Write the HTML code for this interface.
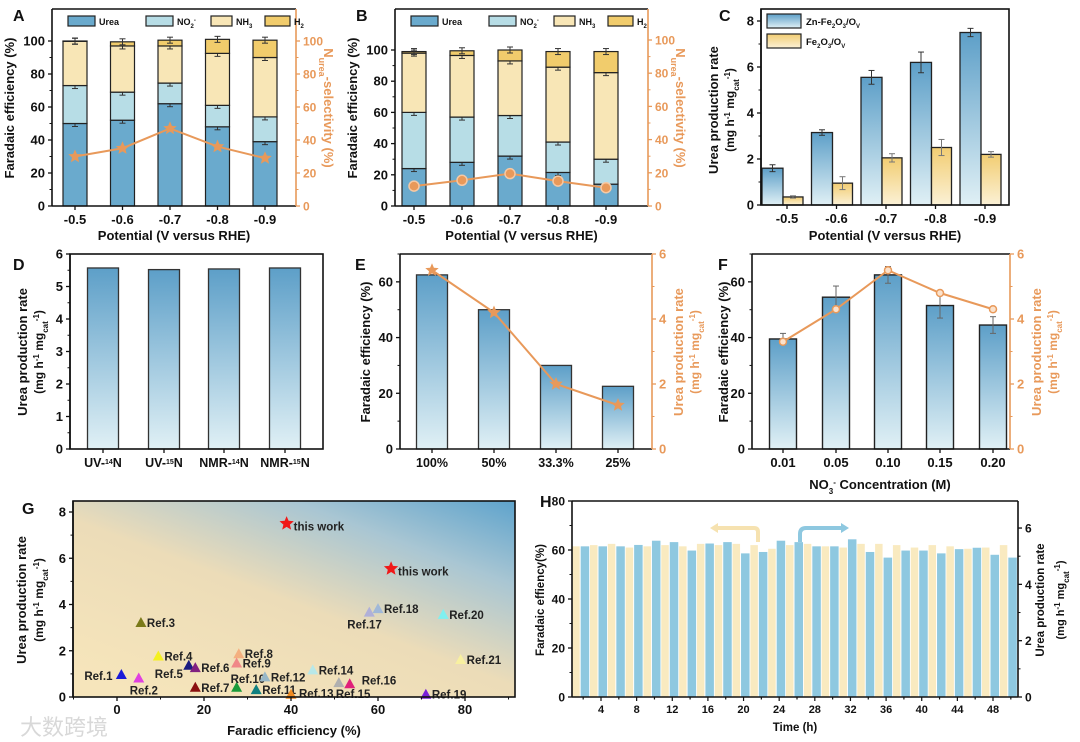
<!DOCTYPE html>
<html><head><meta charset="utf-8"><style>
html,body{margin:0;padding:0;background:#fff}
svg{display:block;font-family:"Liberation Sans","Noto Sans CJK SC",sans-serif;font-weight:bold}
</style></head><body>
<svg id="fig" width="1080" height="742" viewBox="0 0 1080 742" xmlns="http://www.w3.org/2000/svg">
<defs>
<linearGradient id="gBlue" x1="0" y1="0" x2="0" y2="1"><stop offset="0" stop-color="#5d9fc8"/><stop offset="1" stop-color="#e0f0f5"/></linearGradient>
<linearGradient id="gYel" x1="0" y1="0" x2="0" y2="1"><stop offset="0" stop-color="#f2cd72"/><stop offset="1" stop-color="#fbf1d6"/></linearGradient>
<linearGradient id="gBg" x1="0.15" y1="1" x2="1" y2="0"><stop offset="0" stop-color="#f6e5bb"/><stop offset="0.45" stop-color="#ecdcb8"/><stop offset="0.75" stop-color="#a9c6d3"/><stop offset="1" stop-color="#5ea3cc"/></linearGradient>
</defs>
</svg>
<script>
// ---------- DATA ----------
const potCats = ['-0.5','-0.6','-0.7','-0.8','-0.9'];
const aUrea = [50,52,62,48,39];
const aNO2 = [23,17,12.5,13,15];
const aNH3 = [26.8,28,22.5,31.5,36];
const aH2 = [0.2,2.5,3.5,8.5,10.5];
const aSel = [30,35,47,36,29];
const bUrea = [24,28,32,21.5,14];
const bNO2 = [36,29,26,19.5,16];
const bNH3 = [38,39.5,35,48,55.5];
const bH2 = [1,3,7,10,13.5];
const bSel = [12,15.5,19.5,15,11];
const cZn = [1.6,3.15,5.55,6.2,7.5];
const cZnErr = [0.15,0.12,0.3,0.45,0.18];
const cFe = [0.35,0.95,2.05,2.5,2.2];
const cFeErr = [0.05,0.28,0.18,0.35,0.12];
const dCats = ['UV-<tspan baseline-shift="super" font-size="7">14</tspan>N','UV-<tspan baseline-shift="super" font-size="7">15</tspan>N','NMR-<tspan baseline-shift="super" font-size="7">14</tspan>N','NMR-<tspan baseline-shift="super" font-size="7">15</tspan>N'];
const dVals = [5.57,5.52,5.54,5.57];
const eCats = ['100%','50%','33.3%','25%'];
const eFE = [62.5,50,30,22.5];
const eRate = [5.5,4.2,2.0,1.35];
const fCats = ['0.01','0.05','0.10','0.15','0.20'];
const fFE = [39.5,54.5,62.5,51.5,44.5];
const fFEErr = [2,4,3,4.5,3];
const fRate = [3.3,4.3,5.5,4.8,4.3];
const gWorkX = [39,63];
const gWorkY = [7.5,5.55];
const gRefNames = ['Ref.1','Ref.2','Ref.3','Ref.4','Ref.5','Ref.6','Ref.7','Ref.8','Ref.9','Ref.10','Ref.11','Ref.12','Ref.13','Ref.14','Ref.15','Ref.16','Ref.17','Ref.18','Ref.19','Ref.20','Ref.21'];
const gRefX = [1,5,5.5,9.5,16.5,18,18,28,27.5,27.5,32,34,40,45,51,53.5,58,60,71,75,79];
const gRefY = [0.95,0.8,3.2,1.75,1.35,1.25,0.4,1.85,1.45,0.4,0.3,0.85,0.1,1.15,0.6,0.55,3.65,3.8,0.1,3.55,1.6];
const gRefColors = ['#1a1ad8','#e040e0','#7a7a1a','#f4f020','#1a1a80','#802080','#8a1010','#f4b080','#f08888','#1a9a3a','#108080','#98b8c8','#f08a20','#b8e8e8','#b0b0b0','#e0207a','#b0b0d8','#a0b8d8','#7a20d8','#80f0f0','#f8f0a0'];
const hTime = [2,4,6,8,10,12,14,16,18,20,22,24,26,28,30,32,34,36,38,40,42,44,46,48,50];
const hFE = [61.5,62,62.5,61,61.5,62,61.5,62.5,62,62.5,62,60.5,62,62.5,61.5,61,62.5,62.5,62,61,62,61.5,60.5,61,62];
const hRate = [5.35,5.35,5.35,5.4,5.55,5.5,5.2,5.45,5.5,5.1,5.15,5.55,5.5,5.35,5.35,5.6,5.15,4.95,5.2,5.2,5.1,5.25,5.3,5.05,4.95];

// ---------- HELPERS ----------
const NS='http://www.w3.org/2000/svg';
const svg=document.getElementById('fig');
function mk(tag,attrs,parent){const e=document.createElementNS(NS,tag);for(const k in attrs)e.setAttribute(k,attrs[k]);(parent||svg).appendChild(e);return e;}
function txt(x,y,s,attrs,parent){const e=mk('text',Object.assign({x:x,y:y},attrs||{}),parent);e.innerHTML=s;return e;}
function lin(d0,d1,r0,r1){return v=>r0+(v-d0)*(r1-r0)/(d1-d0);}
const ORANGE='#e8995a';
function frame(x0,y0,x1,y1,name){const r=mk('rect',{x:x0,y:y0,width:x1-x0,height:y1-y0,fill:'none',stroke:'#111','stroke-width':1.6});


return r;}
function yAxis(x,sc,ticks,minors,side,color,fs,name,top,bottom){
 const g=mk('g',{});
 
 
 const dir=side==='left'?-1:1;
 mk('line',{x1:x,x2:x,y1:top!==undefined?top:sc(ticks[ticks.length-1]),y2:bottom!==undefined?bottom:sc(ticks[0]),stroke:color,'stroke-width':1.6},g);
 ticks.forEach(t=>{mk('line',{x1:x,x2:x+dir*4,y1:sc(t),y2:sc(t),stroke:color,'stroke-width':1.3},g);
  const l=txt(x+dir*7,sc(t)+4.5,String(t),{'text-anchor':side==='left'?'end':'start','font-size':fs||13,fill:color},g);
  
  });
 (minors||[]).forEach(t=>mk('line',{x1:x,x2:x+dir*2.5,y1:sc(t),y2:sc(t),stroke:color,'stroke-width':1},g));
 return g;}
function xTicks(xs,labels,y,fs,name){
 const g=mk('g',{});
 
 
 xs.forEach((x,i)=>{mk('line',{x1:x,x2:x,y1:y,y2:y+4,stroke:'#111','stroke-width':1.3},g);
  const l=txt(x,y+18,labels[i],{'text-anchor':'middle','font-size':fs||13,fill:'#111'},g);
  
  });
 return g;}
function vlabel(x,y,s,color,fs,name){const t=txt(x,y,s,{'text-anchor':'middle','font-size':fs||13,fill:color||'#111',transform:`rotate(-90 ${x} ${y})`});
 
 
 return t;}
function hlabel(x,y,s,fs,name){const t=txt(x,y,s,{'text-anchor':'middle','font-size':fs||13,fill:'#111'});
 
 
 return t;}
function letter(x,y,s){const t=txt(x,y,s,{'font-size':16,fill:'#111'});
 
 }
function errbar(x,y1,y2,color){mk('line',{x1:x,x2:x,y1:y1,y2:y2,stroke:color||'#333','stroke-width':1});
 mk('line',{x1:x-3,x2:x+3,y1:y1,y2:y1,stroke:color||'#333','stroke-width':1});
 mk('line',{x1:x-3,x2:x+3,y1:y2,y2:y2,stroke:color||'#333','stroke-width':1});}
function star(cx,cy,r,fill,name){let p=[];for(let i=0;i<10;i++){const a=-Math.PI/2+i*Math.PI/5;const rr=i%2?r*0.45:r;p.push((cx+rr*Math.cos(a)).toFixed(1)+','+(cy+rr*Math.sin(a)).toFixed(1));}
 const s=mk('polygon',{points:p.join(' '),fill:fill});
 
 
 return s;}
const RSUP='(mg h<tspan baseline-shift="super" font-size="8">-1</tspan> mg<tspan baseline-shift="sub" font-size="8">cat</tspan><tspan baseline-shift="super" font-size="8">-1</tspan>)';

// ---------- STACKED PANELS A & B ----------
function stacked(opt){
 const {x0,x1,top,bottom,y100,cx0,dx,urea,no2,nh3,h2,sel,r100,marker,L}=opt;
 const ys=lin(0,100,bottom,y100), yr=lin(0,100,bottom,r100);
 const cols=['#6aaacd','#b7dde6','#f8e6b6','#f1cc6c'];
 const names=['urea','no2','nh3','h2'];
 const xs=potCats.map((c,i)=>cx0+i*dx);
 xs.forEach((cx,i)=>{let base=0;[urea,no2,nh3,h2].forEach((arr,k)=>{const v=arr[i];
   const r=mk('rect',{x:cx-12,y:ys(base+v),width:24,height:ys(base)-ys(base+v),fill:cols[k],stroke:'#222','stroke-width':1.2});
   
   
   base+=v; errbar(cx,ys(base)-3,ys(base)+3);});});
 const pts=xs.map((cx,i)=>cx+','+yr(sel[i])).join(' ');
 const pl=mk('polyline',{points:pts,fill:'none',stroke:ORANGE,'stroke-width':2});
 
 
 xs.forEach((cx,i)=>{if(marker==='star')star(cx,yr(sel[i]),7,ORANGE,'selectivity-point');else{const c=mk('circle',{cx:cx,cy:yr(sel[i]),r:5,fill:ORANGE,stroke:'#f6c9a4','stroke-width':1.5});
   
   }});
 mk('line',{x1:x0,x2:x1,y1:top,y2:top,stroke:'#111','stroke-width':1.6});
 mk('line',{x1:x0,x2:x1,y1:bottom,y2:bottom,stroke:'#111','stroke-width':1.6});
 yAxis(x0,ys,[0,20,40,60,80,100],[10,30,50,70,90],'left','#111',13,'y-axis-left-'+L,top,bottom);
 yAxis(x1,yr,[0,20,40,60,80,100],[10,30,50,70,90],'right',ORANGE,12,'y-axis-right-'+L,top,bottom);
 xTicks(xs,potCats,bottom,13,'x-axis-'+L);
 const lx=x0+16; const items=[['Urea',cols[0],0,27,32],['NO<tspan baseline-shift="sub" font-size="6">2</tspan><tspan baseline-shift="super" font-size="6">-</tspan>',cols[1],78,27,30],['NH<tspan baseline-shift="sub" font-size="6">3</tspan>',cols[2],143,21,30],['H<tspan baseline-shift="sub" font-size="6">2</tspan>',cols[3],197,25,20]];
 items.forEach(it=>{const r=mk('rect',{x:lx+it[2],y:16,width:it[3],height:10,fill:it[1],stroke:'#222','stroke-width':1.2});
  
  
  const t=txt(lx+it[2]+it[3]+4,25,it[0],{'font-size':9,fill:'#111'});
  
  });
 vlabel(x0-38,108,'Faradaic efficiency (%)','#111',13,'y-axis-title-'+L);
 const rt=txt(x1+28,108,'N<tspan baseline-shift="sub" font-size="9">urea</tspan>-selectivity (%)',{'text-anchor':'middle','font-size':13,fill:ORANGE,transform:`rotate(90 ${x1+28} 108)`});
 
 
 hlabel((x0+x1)/2,240,'Potential (V versus RHE)',13,'x-axis-title-'+L);
}
stacked({x0:52,x1:296,top:9,bottom:206,y100:41,cx0:75,dx:47.5,urea:aUrea,no2:aNO2,nh3:aNH3,h2:aH2,sel:aSel,r100:41,marker:'star',L:'a'});
stacked({x0:395,x1:648,top:9,bottom:206,y100:50,cx0:414,dx:48,urea:bUrea,no2:bNO2,nh3:bNH3,h2:bH2,sel:bSel,r100:40,marker:'circle',L:'b'});
letter(13,21,'A'); letter(356,21,'B');

// ---------- C ----------
(function(){
 const yc=lin(0,8,205,21); const xs=potCats.map((c,i)=>787+i*49.5);
 xs.forEach((cx,i)=>{
  const r1=mk('rect',{x:cx-25,y:yc(cZn[i]),width:21,height:yc(0)-yc(cZn[i]),fill:'url(#gBlue)',stroke:'#222','stroke-width':1.3});
  
  
  errbar(cx-14.5,yc(cZn[i]+cZnErr[i]),yc(cZn[i]-cZnErr[i]));
  const r2=mk('rect',{x:cx-4,y:yc(cFe[i]),width:20,height:yc(0)-yc(cFe[i]),fill:'url(#gYel)',stroke:'#222','stroke-width':1.3});
  
  
  errbar(cx+6,yc(cFe[i]+cFeErr[i]),yc(cFe[i]-cFeErr[i]),'#777');});
 frame(761,9,1009,205,'plot-frame-c');
 yAxis(761,yc,[0,2,4,6,8],[1,3,5,7],'left','#111',13,'y-axis-c',9,205);
 xTicks(xs,potCats,205,13,'x-axis-c');
 const l1=mk('rect',{x:767,y:14,width:34,height:14,fill:'url(#gBlue)',stroke:'#222','stroke-width':1.2});
 
 
 const t1=txt(806,25,'Zn-Fe<tspan baseline-shift="sub" font-size="6">2</tspan>O<tspan baseline-shift="sub" font-size="6">3</tspan>/O<tspan baseline-shift="sub" font-size="6">V</tspan>',{'font-size':9.5,fill:'#111'});
 
 
 const l2=mk('rect',{x:767,y:34,width:34,height:14,fill:'url(#gYel)',stroke:'#222','stroke-width':1.2});
 
 
 const t2=txt(806,45,'Fe<tspan baseline-shift="sub" font-size="6">2</tspan>O<tspan baseline-shift="sub" font-size="6">3</tspan>/O<tspan baseline-shift="sub" font-size="6">V</tspan>',{'font-size':9.5,fill:'#111'});
 
 
 vlabel(718,110,'Urea production rate','#111',13,'y-axis-title-c');
 vlabel(734,110,RSUP,'#111',12,'y-axis-unit-c');
 hlabel(885,240,'Potential (V versus RHE)',13,'x-axis-title-c');
 letter(719,21,'C');
})();

// ---------- D ----------
(function(){
 const yd=lin(0,6,449,254); const xs=[103,164,224,285];
 xs.forEach((cx,i)=>{const r=mk('rect',{x:cx-15.5,y:yd(dVals[i]),width:31,height:yd(0)-yd(dVals[i]),fill:'url(#gBlue)',stroke:'#333','stroke-width':1.3});
  
  });
 frame(70,254,323,449,'plot-frame-d');
 yAxis(70,yd,[0,1,2,3,4,5,6],[0.5,1.5,2.5,3.5,4.5,5.5],'left','#111',13,'y-axis-d');
 xTicks(xs,dCats,449,12.5,'x-axis-d');
 vlabel(27,352,'Urea production rate','#111',13,'y-axis-title-d');
 vlabel(43,352,RSUP,'#111',12,'y-axis-unit-d');
 letter(13,270,'D');
})();

// ---------- E ----------
(function(){
 const ye=lin(0,70,449,254), yr=lin(0,6,449,254); const xs=[432,494,556,618];
 xs.forEach((cx,i)=>{const r=mk('rect',{x:cx-15.5,y:ye(eFE[i]),width:31,height:ye(0)-ye(eFE[i]),fill:'url(#gBlue)',stroke:'#333','stroke-width':1.3});
  
  });
 const pl=mk('polyline',{points:xs.map((x,i)=>x+','+yr(eRate[i])).join(' '),fill:'none',stroke:ORANGE,'stroke-width':2});
 
 
 xs.forEach((x,i)=>star(x,yr(eRate[i]),7,ORANGE,'rate-point-e'));
 mk('line',{x1:400,x2:652,y1:254,y2:254,stroke:'#111','stroke-width':1.6});
 mk('line',{x1:400,x2:652,y1:449,y2:449,stroke:'#111','stroke-width':1.6});
 yAxis(400,ye,[0,20,40,60],[10,30,50,70],'left','#111',13,'y-axis-e',254,449);
 yAxis(652,yr,[0,2,4,6],[1,3,5],'right',ORANGE,13,'y-axis-right-e',254,449);
 xTicks(xs,eCats,449,12.5,'x-axis-e');
 vlabel(370,352,'Faradaic efficiency (%)','#111',13,'y-axis-title-e');
 vlabel(683,352,'Urea production rate',ORANGE,13,'y-axis-right-title-e');
 vlabel(699,352,RSUP,ORANGE,12,'y-axis-right-unit-e');
 letter(355,270,'E');
})();

// ---------- F ----------
(function(){
 const yf=lin(0,70,449,254), yr=lin(0,6,449,254); const xs=[783,836,888,940,993];
 xs.forEach((cx,i)=>{const r=mk('rect',{x:cx-13.5,y:yf(fFE[i]),width:27,height:yf(0)-yf(fFE[i]),fill:'url(#gBlue)',stroke:'#222','stroke-width':1.4});
  
  
  errbar(cx,yf(fFE[i]+fFEErr[i]),yf(fFE[i]-fFEErr[i]),'#666');});
 const pl=mk('polyline',{points:xs.map((x,i)=>x+','+yr(fRate[i])).join(' '),fill:'none',stroke:ORANGE,'stroke-width':2});
 
 
 xs.forEach((x,i)=>{const c=mk('circle',{cx:x,cy:yr(fRate[i]),r:3.5,fill:'#fbe2cc',stroke:ORANGE,'stroke-width':1.5});
  
  });
 mk('line',{x1:752,x2:1010,y1:254,y2:254,stroke:'#111','stroke-width':1.6});
 mk('line',{x1:752,x2:1010,y1:449,y2:449,stroke:'#111','stroke-width':1.6});
 yAxis(752,yf,[0,20,40,60],[10,30,50,70],'left','#111',13,'y-axis-f',254,449);
 yAxis(1010,yr,[0,2,4,6],[1,3,5],'right',ORANGE,13,'y-axis-right-f',254,449);
 xTicks(xs,fCats,449,13,'x-axis-f');
 hlabel(880,489,'NO<tspan baseline-shift="sub" font-size="8">3</tspan><tspan baseline-shift="super" font-size="8">-</tspan> Concentration (M)',13,'x-axis-title-f');
 vlabel(728,352,'Faradaic efficiency (%)','#111',13,'y-axis-title-f');
 vlabel(1041,352,'Urea production rate',ORANGE,13,'y-axis-right-title-f');
 vlabel(1057,352,RSUP,ORANGE,12,'y-axis-right-unit-f');
 letter(718,270,'F');
})();

// ---------- G ----------
(function(){
 const xg=lin(0,80,117,465), yg=lin(0,8,697,512);
 const bg=mk('rect',{x:73,y:501,width:442,height:196,fill:'url(#gBg)'});
 
 
 const off={'Ref.1':[-37,5],'Ref.2':[-9,16],'Ref.5':[-34,12],'Ref.10':[-6,-5],'Ref.13':[8,3],'Ref.15':[-3,15],'Ref.16':[12,0],'Ref.17':[-22,16]};
 gRefX.forEach((v,i)=>{const x=xg(v),y=yg(gRefY[i]);
  const p=mk('polygon',{points:`${x},${y-6} ${x-5.5},${y+4} ${x+5.5},${y+4}`,fill:gRefColors[i]});
  
  
  const o=off[gRefNames[i]]||[6,4];
  const t=txt(x+o[0],y+o[1],gRefNames[i],{'font-size':11.5,fill:'#222'});
  
  });
 gWorkX.forEach((v,i)=>{star(xg(v),yg(gWorkY[i]),7.5,'#f01818','this-work-point');
  const t=txt(xg(v)+7,yg(gWorkY[i])+7,'this work',{'font-size':11.5,fill:'#222'});
  
  });
 frame(73,501,515,697,'plot-frame-g');
 yAxis(73,yg,[0,2,4,6,8],[1,3,5,7],'left','#111',13,'y-axis-g',501,697);
 const g=mk('g',{});
 
 
 [0,20,40,60,80].forEach(t=>{mk('line',{x1:xg(t),x2:xg(t),y1:697,y2:701,stroke:'#111','stroke-width':1.3},g);txt(xg(t),714,String(t),{'text-anchor':'middle','font-size':13,fill:'#111'},g);});
 [-10,10,30,50,70,90].forEach(t=>{if(xg(t)>73&&xg(t)<515)mk('line',{x1:xg(t),x2:xg(t),y1:697,y2:699.5,stroke:'#111','stroke-width':1},g);});
 hlabel(294,735,'Faradic efficiency (%)',13,'x-axis-title-g');
 vlabel(26,600,'Urea production rate','#111',13,'y-axis-title-g');
 vlabel(43,600,RSUP,'#111',12,'y-axis-unit-g');
 letter(22,514,'G');
 const wm=txt(20,735,'大数跨境',{'font-size':22,fill:'#d8d8d8','font-weight':'normal'});
 
 
})();

// ---------- H ----------
(function(){
 const xh=lin(4,48,601,993), yl=lin(0,80,697,501), yr=lin(0,6.96,697,501);
 hTime.forEach((t,i)=>{
  const a=mk('rect',{x:xh(t)-11,y:yl(hFE[i]),width:7.5,height:yl(0)-yl(hFE[i]),fill:'#f9eac0'});
  
  
  const b=mk('rect',{x:xh(t)-2.5,y:yr(hRate[i]),width:8.5,height:yr(0)-yr(hRate[i]),fill:'#8ec8e0'});
  
  });
 const a1=mk('path',{d:'M758,542 L758,532 Q758,528 754,528 L716,528',fill:'none',stroke:'#f6e2b0','stroke-width':4});
 
 
 mk('polygon',{points:'710,528 718,523 718,533',fill:'#f6e2b0'});
 const a2=mk('path',{d:'M800,542 L800,534 Q800,528 806,528 L842,528',fill:'none',stroke:'#8ec8e0','stroke-width':4});
 
 
 mk('polygon',{points:'849,528 841,523 841,533',fill:'#8ec8e0'});
 mk('line',{x1:572,x2:1018,y1:501,y2:501,stroke:'#111','stroke-width':1.6});
 mk('line',{x1:572,x2:1018,y1:697,y2:697,stroke:'#111','stroke-width':1.6});
 yAxis(572,yl,[0,20,40,60,80],[10,30,50,70],'left','#111',12,'y-axis-h',501,697);
 yAxis(1018,yr,[0,2,4,6],[1,3,5],'right','#111',12,'y-axis-right-h',501,697);
 const g=mk('g',{});
 
 
 for(let t=2;t<=50;t+=2){mk('line',{x1:xh(t),x2:xh(t),y1:697,y2:t%4===0?701:699.5,stroke:'#111','stroke-width':1.2},g);if(t%4===0)txt(xh(t),713,String(t),{'text-anchor':'middle','font-size':11,fill:'#111'},g);}
 hlabel(795,731,'Time (h)',11.5,'x-axis-title-h');
 vlabel(544,600,'Faradaic effiency(%)','#111',11.5,'y-axis-title-h');
 vlabel(1044,600,'Urea production rate','#111',11.5,'y-axis-right-title-h');
 vlabel(1064,600,RSUP,'#111',11,'y-axis-right-unit-h');
 letter(540,507,'H');
})();
</script>
</body></html>
